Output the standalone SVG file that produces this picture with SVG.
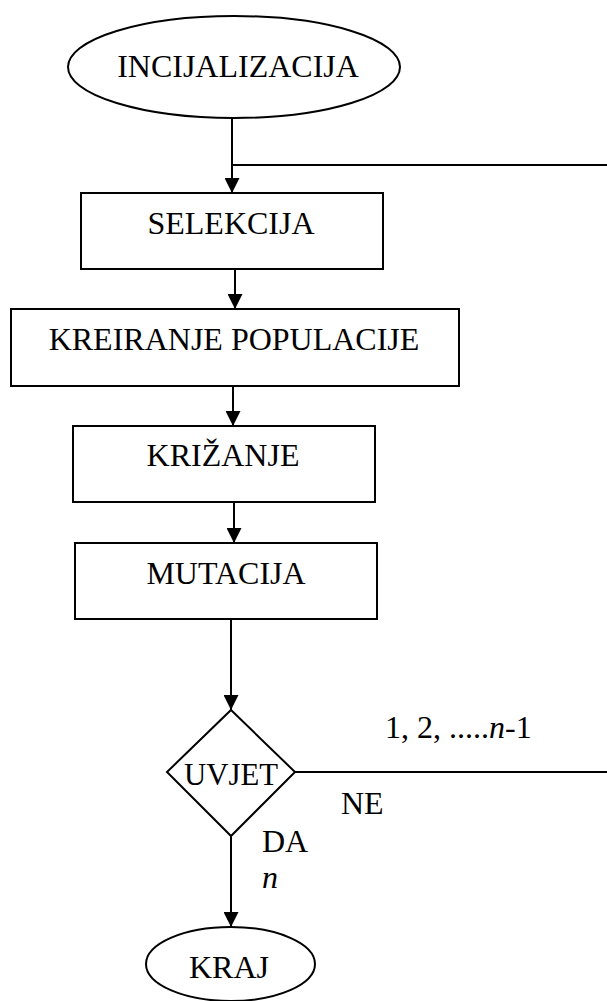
<svg xmlns="http://www.w3.org/2000/svg" width="607" height="1001" viewBox="0 0 607 1001">
<style>
.n{fill:#fff;stroke:#000;stroke-width:2}
.m{text-anchor:middle}
.c{fill:none;stroke:#000;stroke-width:2}
.a{marker-end:url(#ah)}
</style>
<defs>
<marker id="ah" viewBox="0 0 15 15" refX="15" refY="7.5" markerWidth="15" markerHeight="15" markerUnits="userSpaceOnUse" orient="auto">
<path d="M0,0L15,7.5L0,15Z" fill="#000"/>
</marker>
</defs>
<rect width="607" height="1001" fill="#fff"/>
<g font-family="'Liberation Serif', 'Times New Roman', serif" font-size="32" fill="#000">
<g id="connectors">
<line class="c a" x1="232" y1="118" x2="232" y2="193"/>
<line class="c" x1="232" y1="165" x2="607" y2="165"/>
<line class="c a" x1="235" y1="269" x2="235" y2="309"/>
<line class="c a" x1="233" y1="386" x2="233" y2="426"/>
<line class="c a" x1="234" y1="502" x2="234" y2="543"/>
<line class="c a" x1="231" y1="619" x2="231" y2="710"/>
<line class="c" x1="295" y1="772" x2="607" y2="772"/>
<line class="c a" x1="231" y1="836" x2="231" y2="927"/>
<text x="385" y="738">1, 2, .....<tspan font-style="italic">n</tspan>-1</text>
<text x="341" y="814">NE</text>
<text x="262" y="852">DA</text>
<text x="262" y="888" font-style="italic">n</text>
</g>
<g id="incijalizacija">
<ellipse class="n" cx="234" cy="67" rx="166" ry="51"/>
<text class="m" x="238" y="77">INCIJALIZACIJA</text>
</g>
<g id="selekcija">
<rect class="n" x="81" y="193" width="302" height="76"/>
<text class="m" x="231" y="234">SELEKCIJA</text>
</g>
<g id="kreiranje">
<rect class="n" x="11" y="309" width="448" height="77"/>
<text class="m" x="234" y="350">KREIRANJE POPULACIJE</text>
</g>
<g id="krizanje">
<rect class="n" x="73" y="426" width="302" height="76"/>
<text class="m" x="223" y="466">KRIŽANJE</text>
</g>
<g id="mutacija">
<rect class="n" x="75" y="543" width="302" height="76"/>
<text class="m" x="226" y="584">MUTACIJA</text>
</g>
<g id="uvjet">
<path class="n" d="M231,710L295,772L231,836L167,772Z"/>
<text class="m" x="231" y="785" textLength="94" lengthAdjust="spacingAndGlyphs">UVJET</text>
</g>
<g id="kraj">
<ellipse class="n" cx="230.5" cy="964" rx="84.5" ry="37"/>
<text class="m" x="229" y="978">KRAJ</text>
</g>
</g>
</svg>
